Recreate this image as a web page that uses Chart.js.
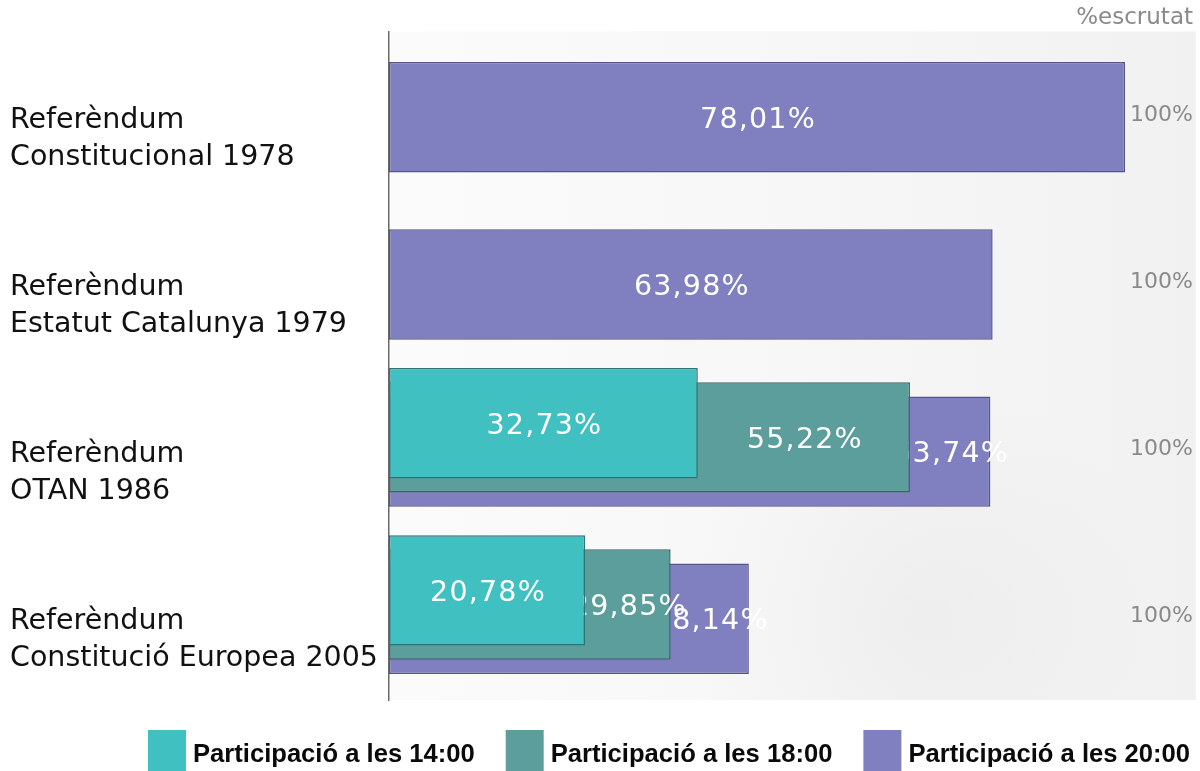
<!DOCTYPE html>
<html>
<head>
<meta charset="utf-8">
<script src="https://cdn.jsdelivr.net/npm/chart.js@4.4.1/dist/chart.umd.min.js"></script>
<style>
  html, body { margin: 0; padding: 0; background: #ffffff; }
  #c { display: block; }
</style>
</head>
<body>
<canvas id="c" width="1200" height="771"></canvas>
<script>
// ---- data ----
const categories = [
  ['Referèndum', 'Constitucional 1978'],
  ['Referèndum', 'Estatut Catalunya 1979'],
  ['Referèndum', 'OTAN 1986'],
  ['Referèndum', 'Constitució Europea 2005']
];
const seriesNames = ['Participació a les 14:00', 'Participació a les 18:00', 'Participació a les 20:00'];
const part14 = [null, null, 32.73, 20.78];
const part18 = [null, null, 55.22, 29.85];
const part20 = [78.01, 63.98, 63.74, 38.14];
const escrutat = ['100%', '100%', '100%', '100%'];
const escrutatTitle = '%escrutat';
const xMax = 78.01;

// ---- styles ----
const fills = ['#41C0C2', '#5C9E9B', '#8080C0'];
const borders = ['#2E7475', '#3D6866', '#55558A'];

const toPoints = arr => arr.map((v, i) => ({ x: v, y: i }));
const fmt = v => v.toFixed(2).replace('.', ',') + '%';

const plotBackground = {
  id: 'plotBackground',
  beforeDraw(chart) {
    const { ctx, chartArea } = chart;
    const left = chartArea.left, right = chart.width - 4;
    const g = ctx.createLinearGradient(left, 0, right, 0);
    g.addColorStop(0, '#fbfbfb');
    g.addColorStop(0.5, '#f7f7f7');
    g.addColorStop(1, '#f1f1f1');
    ctx.save();
    ctx.fillStyle = g;
    ctx.fillRect(left, chartArea.top, right - left, chartArea.bottom - chartArea.top);
    const r = ctx.createRadialGradient(920, 620, 10, 920, 620, 240);
    r.addColorStop(0, 'rgba(205,205,205,0.18)');
    r.addColorStop(1, 'rgba(205,205,205,0)');
    ctx.fillStyle = r;
    ctx.fillRect(left, chartArea.top, right - left, chartArea.bottom - chartArea.top);
    ctx.restore();
  }
};

const valueLabels = {
  id: 'valueLabels',
  afterDatasetDraw(chart, args) {
    const { ctx } = chart;
    const i = args.index;
    const meta = args.meta;
    ctx.save();
    ctx.font = '28.5px "DejaVu Sans", Verdana, sans-serif';
    try { ctx.letterSpacing = '1.2px'; } catch (e) {}
    ctx.fillStyle = '#ffffff';
    ctx.textAlign = 'center';
    ctx.textBaseline = 'middle';
    meta.data.forEach((el, k) => {
      const v = chart.data.datasets[i].data[k].x;
      if (v === null || v === undefined) return;
      let left = el.base;
      for (let j = 0; j < i; j++) {
        const vj = chart.data.datasets[j].data[k].x;
        if (vj !== null && vj !== undefined) {
          left = Math.max(left, chart.getDatasetMeta(j).data[k].x);
        }
      }
      ctx.fillText(fmt(v), (left + el.x) / 2 + 1, el.y + 3);
    });
    ctx.restore();
  }
};

const customLegend = {
  id: 'customLegend',
  afterDraw(chart) {
    const { ctx } = chart;
    ctx.save();
    ctx.font = 'bold 25.6px "Liberation Sans", Arial, sans-serif';
    ctx.textBaseline = 'alphabetic';
    ctx.textAlign = 'left';
    let x = 148;
    chart.data.datasets.forEach(ds => {
      ctx.fillStyle = ds.backgroundColor;
      ctx.fillRect(x, 730, 38, 41);
      ctx.fillStyle = '#0a0a0a';
      ctx.fillText(ds.label, x + 45, 762);
      x += 45 + ctx.measureText(ds.label).width + 31;
    });
    ctx.restore();
  }
};

const seriesData = [part14, part18, part20];

new Chart(document.getElementById('c'), {
  type: 'bar',
  data: {
    labels: categories,
    datasets: seriesData.map((arr, i) => ({
      label: seriesNames[i],
      data: toPoints(arr),
      backgroundColor: fills[i],
      borderColor: borders[i],
      borderWidth: 1.5,
      borderSkipped: false,
      xAxisID: 'x',
      yAxisID: 'yb',
      categoryPercentage: 0.2547,
      barPercentage: 7.78
    }))
  },
  options: {
    indexAxis: 'y',
    responsive: false,
    animation: false,
    devicePixelRatio: 1,
    layout: { padding: { left: 10, right: 7, top: 0, bottom: 71 } },
    plugins: {
      legend: { display: false },
      tooltip: { enabled: false },
      title: {
        display: true,
        text: escrutatTitle,
        align: 'end',
        color: '#8a8a8a',
        font: { family: '"DejaVu Sans", Verdana, sans-serif', size: 23, weight: 'normal', lineHeight: 1.15 },
        padding: { top: 5, bottom: 0 }
      }
    },
    scales: {
      x: {
        type: 'linear',
        min: 0,
        max: xMax,
        display: false
      },
      yb: {
        type: 'linear',
        display: false,
        offset: false,
        reverse: true,
        min: -0.4288,
        max: 3.5712,
        afterBuildTicks(s) { s.ticks = categories.map((_, i) => ({ value: i })); }
      },
      y: {
        type: 'category',
        labels: categories,
        position: 'left',
        offset: true,
        grid: { display: false, drawTicks: false },
        border: { display: true, color: '#6a6a6a', width: 1.5 },
        ticks: {
          color: '#111111',
          font: { family: '"DejaVu Sans", Verdana, sans-serif', size: 28.5, lineHeight: 1.3 },
          crossAlign: 'far',
          labelOffset: 24,
          padding: 0,
          autoSkip: false
        },
        afterFit(s) { s.width = 379; s.paddingTop = 0; s.paddingBottom = 0; }
      },
      y2: {
        type: 'category',
        labels: escrutat,
        position: 'right',
        offset: true,
        grid: { display: false, drawTicks: false },
        border: { display: false },
        ticks: {
          color: '#8a8a8a',
          font: { family: '"DejaVu Sans", Verdana, sans-serif', size: 22 },
          padding: 5,
          autoSkip: false
        },
        afterFit(s) { s.width = 68; s.paddingTop = 0; s.paddingBottom = 0; }
      }
    }
  },
  plugins: [plotBackground, valueLabels, customLegend]
});
</script>
</body>
</html>
